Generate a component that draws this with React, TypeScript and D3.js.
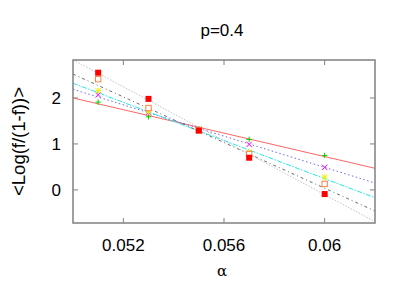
import React from 'react';
import * as d3 from 'd3';

// measured alpha values
const alphas = [0.051, 0.053, 0.055, 0.057, 0.06];

// <Log(f/(1-f))> per series
const seriesGreen = [1.91, 1.59, 1.33, 1.10, 0.75];
const seriesMagenta = [2.07, 1.68, 1.32, 0.99, 0.49];
const seriesYellow = [2.16, 1.70, 1.31, 0.82, 0.28];
const seriesOrange = [2.41, 1.78, 1.30, 0.78, 0.13];
const seriesRed = [2.55, 1.98, 1.29, 0.70, -0.09];

// fit lines, values at the two ends of the alpha range
const fitEnds = [0.05, 0.062];
const fitRed = [2.0, 0.47];
const fitBlue = [2.19, 0.15];
const fitCyan = [2.32, -0.17];
const fitDark = [2.52, -0.46];
const fitLight = [2.83, -0.69];

const xTicks = [0.052, 0.056, 0.06];
const xTickLabels = ['0.052', '0.056', '0.06'];
const yTicks = [0, 1, 2];

const W = 411;
const H = 288;
const margin = { top: 60, right: 36, bottom: 65, left: 73 };

const App: React.FC = () => {
  const x = d3.scaleLinear().domain([0.05, 0.062]).range([margin.left, W - margin.right]);
  const y = d3.scaleLinear().domain([-0.72, 2.826]).range([H - margin.bottom, margin.top]);
  const x0 = margin.left, x1 = W - margin.right;
  const y0 = margin.top, y1 = H - margin.bottom;

  const line = d3.line<[number, number]>().x(d => x(d[0])).y(d => y(d[1]));
  const fits = [
    { v: fitRed, color: '#ff6666', dash: '' },
    { v: fitBlue, color: '#6a6aff', dash: '1.5,2.5' },
    { v: fitCyan, color: '#20e8e8', dash: '5,1.5,1.5,1.5' },
    { v: fitDark, color: '#6a6a6a', dash: '3,3,1,3' },
    { v: fitLight, color: '#c4c4c4', dash: '1.5,1.5' },
  ];

  const font = 'Liberation Sans, Arial, sans-serif';
  const s = 2.7;

  const plus = (cx: number, cy: number, c: string, k: string) => (
    <path key={k} d={`M${cx - s},${cy}H${cx + s}M${cx},${cy - s}V${cy + s}`} stroke={c} strokeWidth={1} />
  );
  const cross = (cx: number, cy: number, c: string, k: string) => (
    <path key={k} d={`M${cx - s},${cy - s}L${cx + s},${cy + s}M${cx - s},${cy + s}L${cx + s},${cy - s}`} stroke={c} strokeWidth={1} />
  );
  const star = (cx: number, cy: number, c: string, k: string) => (
    <path key={k} d={`M${cx - s},${cy}H${cx + s}M${cx},${cy - s}V${cy + s}M${cx - s},${cy - s}L${cx + s},${cy + s}M${cx - s},${cy + s}L${cx + s},${cy - s}`} stroke={c} strokeWidth={1} />
  );
  const box = (cx: number, cy: number, c: string, k: string) => (
    <rect key={k} x={cx - s} y={cy - s} width={2 * s} height={2 * s} fill="white" stroke={c} strokeWidth={1} />
  );
  const fbox = (cx: number, cy: number, c: string, k: string) => (
    <rect key={k} x={cx - 3} y={cy - 3} width={6} height={6} fill={c} />
  );

  const points = [
    { v: seriesGreen, color: '#00d000', mk: plus },
    { v: seriesMagenta, color: '#ff00ff', mk: cross },
    { v: seriesYellow, color: '#f0f000', mk: star },
    { v: seriesOrange, color: '#ff8040', mk: box },
    { v: seriesRed, color: '#ff0000', mk: fbox },
  ];

  return (
    <svg width={W} height={H} style={{ position: 'absolute', left: 0, top: 0 }}>
      <rect width={W} height={H} fill="white" />
      <defs>
        <clipPath id="plot">
          <rect x={x0} y={y0} width={x1 - x0} height={y1 - y0} />
        </clipPath>
      </defs>
      <text x={222} y={36} textAnchor="middle" fontFamily={font} fontSize={17}>p=0.4</text>

      {/* ticks */}
      {xTicks.map(t => (
        <g key={'xt' + t}>
          <line x1={x(t)} x2={x(t)} y1={y1} y2={y1 - 5} stroke="#808080" />
          <line x1={x(t)} x2={x(t)} y1={y0} y2={y0 + 5} stroke="#808080" />
        </g>
      ))}
      {yTicks.map(t => (
        <g key={'yt' + t}>
          <line x1={x0} x2={x0 + 5} y1={y(t)} y2={y(t)} stroke="#808080" />
          <line x1={x1} x2={x1 - 5} y1={y(t)} y2={y(t)} stroke="#808080" />
          <text x={61} y={y(t) + 6} textAnchor="end" fontFamily={font} fontSize={17}>{t}</text>
        </g>
      ))}
      {xTicks.map((t, i) => (
        <text key={'xl' + t} x={x(t)} y={251} textAnchor="middle" fontFamily={font} fontSize={17}>{xTickLabels[i]}</text>
      ))}

      <g clipPath="url(#plot)">
        {fits.map((f, i) => (
          <path key={'f' + i} d={line([[fitEnds[0], f.v[0]], [fitEnds[1], f.v[1]]]) || ''}
            fill="none" stroke={f.color} strokeWidth={1} strokeDasharray={f.dash} />
        ))}
      </g>
      {points.map((p, i) =>
        p.v.map((v, j) => p.mk(x(alphas[j]), y(v), p.color, `p${i}-${j}`))
      )}

      <rect x={x0} y={y0} width={x1 - x0} height={y1 - y0} fill="none" stroke="#808080" strokeWidth={1.5} />

      <text transform={`translate(25,${(y0 + y1) / 2}) rotate(-90)`} textAnchor="middle" fontFamily={font} fontSize={18.5}>
        {'<Log(f/(1-f))>'}
      </text>
      <text x={222} y={276} textAnchor="middle" fontFamily="DejaVu Serif, serif" fontSize={15}>α</text>
    </svg>
  );
};

export default App;
